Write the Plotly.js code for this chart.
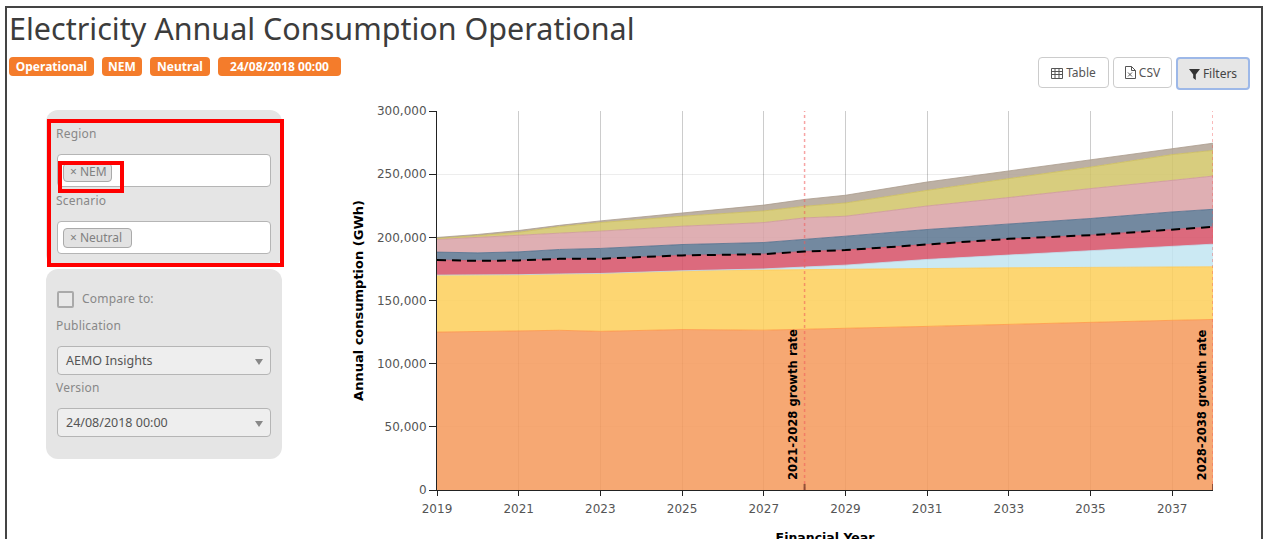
<!DOCTYPE html>
<html><head><meta charset="utf-8">
<script src="https://cdn.plot.ly/plotly-3.0.1.min.js"></script>
<style>
html,body{margin:0;padding:0;background:#fff;overflow:hidden;width:1266px;height:539px;font-family:"DejaVu Sans",sans-serif}
.a{position:absolute;box-sizing:border-box;white-space:nowrap}
.frame{left:5px;top:6px;width:1258px;height:560px;border:2px solid #444}
h1{margin:0;left:9px;top:8px;font:400 30.500px/40px "Noto Sans",sans-serif;color:#3c3c3c}
.badge{top:57px;height:19px;background:#f47c2b;color:#fff;font:700 12px/19px "Noto Sans",sans-serif;text-align:center;border-radius:4px}
.panel{background:#e5e5e5;left:46px;width:236px;border-radius:12px}
.label{left:56px;font:12px/16px "Noto Sans",sans-serif;color:#888;letter-spacing:.2px}
.input{left:57px;width:214px;background:#fff;border:1px solid #b5b5b5;border-radius:4px}
.tag{left:63px;background:#e2e2e2;border:1px solid #aaa;border-radius:4px;color:#808080;font:12px/15px "Noto Sans",sans-serif;padding-left:6px}
.select{left:57px;width:214px;height:29px;background:#eee;border:1px solid #b5b5b5;border-radius:4px;color:#555;font:12.500px/28px "Noto Sans",sans-serif;padding-left:8px}
.select:after{content:"";position:absolute;right:7px;top:12px;border:4.500px solid transparent;border-top:6px solid #888;border-bottom:0}
.red{border:4px solid #f00}
.btn{top:57px;height:31px;background:#fff;border:1px solid #ccc;border-radius:4px;color:#555;font:12px/29px "Noto Sans",sans-serif;text-align:center}
.btn svg{vertical-align:-2px;margin-right:3px}
#chart{position:absolute;left:340px;top:100px;width:900px;height:445px}
</style></head><body>
<div class="a frame"></div>
<h1 class="a">Electricity Annual Consumption Operational</h1>
<div class="a badge" style="left:9px;width:85px">Operational</div>
<div class="a badge" style="left:102px;width:40px">NEM</div>
<div class="a badge" style="left:150px;width:60px">Neutral</div>
<div class="a badge" style="left:218px;width:123px">24/08/2018 00:00</div>

<div class="a panel" style="top:110px;height:156px"></div>
<div class="a panel" style="top:269px;height:190px"></div>
<div class="a label" style="top:126px">Region</div>
<div class="a input" style="top:154px;height:33px"></div>
<div class="a tag" style="top:163px;width:49px;height:19px">× NEM</div>
<div class="a label" style="top:193px">Scenario</div>
<div class="a input" style="top:221px;height:33px"></div>
<div class="a tag" style="top:228px;width:69px;height:20px;line-height:17px">× Neutral</div>
<div class="a red" style="left:47px;top:119px;width:237px;height:148px"></div>
<div class="a red" style="left:58px;top:161px;width:66px;height:32px"></div>
<div class="a" style="left:57px;top:291px;width:17px;height:17px;border:2px solid #aaa;border-radius:2px;background:#e9e9e9"></div>
<div class="a label" style="left:82px;top:291px">Compare to:</div>
<div class="a label" style="top:318px">Publication</div>
<div class="a select" style="top:346px">AEMO Insights</div>
<div class="a label" style="top:380px">Version</div>
<div class="a select" style="top:408px">24/08/2018 00:00</div>

<div class="a btn" style="left:1038px;width:71px"><svg width="12" height="11" viewBox="0 0 12 11"><path d="M.5.5h11v10H.5zM.5 3.5h11M.5 6.500h11M4 .5v10M8 .5v10" fill="none" stroke="#555"/></svg>Table</div>
<div class="a btn" style="left:1113px;width:59px"><svg width="11" height="13" viewBox="0 0 11 13"><path d="M.5.5h6l4 4v8H.5zM6.500.5v4h4M3 6.500l4 4M7 6.500l-4 4" fill="none" stroke="#555"/></svg>CSV</div>
<div class="a btn" style="left:1176px;width:74px;height:33px;background:#e6e6e6;border:2px solid #9db8e8;line-height:29px;color:#444"><svg width="11" height="11" viewBox="0 0 11 11"><path d="M0 0h11L6.800 5.500V11L4.200 9V5.500z" fill="#333"/></svg>Filters</div>

<div id="chart"></div>
<script>
var years = [2019,2020,2021,2022,2023,2025,2027,2028,2029,2031,2033,2035,2037,2038];
var orangeTop = [125000,125300,125800,126400,125600,127000,126500,127400,128000,129500,131300,132700,134300,135000];
var yellowTop = [170100,170000,170400,171000,171400,173500,174100,174600,175100,175600,175900,176200,176400,176700];
var lightBlueTop = [170100,170000,170400,171000,171400,173500,175000,176500,178000,182500,186000,189400,193000,194600];
var redTop = [182000,181400,181700,183000,183000,185700,186700,188800,189900,194300,198800,201700,206200,208300];
var slateTop = [188300,187700,188500,190400,191200,194300,195900,198300,200900,206200,210400,214900,220100,222200];
var pinkTop = [198300,199800,201700,203300,204900,208800,211700,215400,216700,224800,231500,238600,245100,248500];
var oliveTop = [199300,201300,204000,208500,211700,216700,220900,224600,227200,237200,246500,255600,265500,268800];
var greyTop = [199900,202300,205400,209500,213000,219000,225500,230000,233300,243800,252500,260900,270000,274500];
var dashedTotal = [182000,181400,181700,183000,183000,185700,186700,188800,189900,194300,198800,201700,206200,208300];
var growthMarkers = [2028,2038];
var growthLabels = ["2021-2028 growth rate","2028-2038 growth rate"];

function band(y,fill,line,first){
  return {x:years,y:y,type:"scatter",mode:"lines",fill:first?"tozeroy":"tonexty",fillcolor:fill,
          line:{color:line,width:1},hoverinfo:"skip",showlegend:false};
}
var traces = [
  band(orangeTop,"rgba(244,153,90,.85)","rgba(255,150,70,.8)",true),
  band(yellowTop,"rgba(253,207,89,.85)","rgba(255,200,80,.8)"),
  band(lightBlueTop,"rgba(194,229,241,.85)","rgba(190,225,240,.8)"),
  band(redTop,"rgba(214,80,102,.85)","rgba(214,80,102,.8)"),
  band(slateTop,"rgba(90,116,143,.85)","rgba(80,110,140,.8)"),
  band(pinkTop,"rgba(217,161,166,.85)","rgba(205,150,155,.8)"),
  band(oliveTop,"rgba(209,196,103,.85)","rgba(205,190,90,.8)"),
  band(greyTop,"rgba(176,162,148,.85)","rgba(170,155,140,.8)"),
  {x:years,y:dashedTotal,type:"scatter",mode:"lines",line:{color:"#000",width:2,dash:"9px,6px"},hoverinfo:"skip",showlegend:false}
];
var shapes = [], annotations = [];
growthMarkers.forEach(function(g,i){
  shapes.push({type:"line",x0:g,x1:g,yref:"paper",y0:0,y1:1,line:{color:"rgba(240,90,90,.55)",width:1.5,dash:"dot"}});
  shapes.push({type:"line",x0:g,x1:g,yref:"paper",y0:0,y1:0.016,line:{color:"rgba(120,60,40,.8)",width:2}});
  annotations.push({x:g,xref:"x",xanchor:"center",xshift:-11.5,yref:"paper",y:0.02,yanchor:"bottom",showarrow:false,
    textangle:-90,text:growthLabels[i],font:{family:"DejaVu Sans",size:11.6,color:"#000",weight:700}});
});
var layout = {
  width:900,height:445,autosize:false,
  margin:{l:97,r:27,t:10.5,b:54.5},
  paper_bgcolor:"rgba(0,0,0,0)",plot_bgcolor:"rgba(0,0,0,0)",
  font:{family:"DejaVu Sans",size:12,color:"#555"},
  xaxis:{range:[2019,2038],tick0:2019,dtick:2,ticks:"outside",ticklen:5,tickcolor:"#222",tickformat:"d",ticklabelstandoff:3,
    showline:true,linecolor:"#222",linewidth:1,showgrid:true,gridcolor:"rgba(0,0,0,.2)",zeroline:false,
    title:{text:"Financial Year",font:{size:12.5,color:"#000",weight:700},standoff:26}},
  yaxis:{range:[0,300000],dtick:50000,ticks:"outside",ticklen:7,tickcolor:"#222",tickformat:",d",
    showline:true,linecolor:"#222",linewidth:1,showgrid:true,gridcolor:"rgba(0,0,0,.07)",zeroline:false,
    title:{text:"Annual consumption (GWh)",font:{size:13,color:"#000",weight:700},standoff:10}},
  shapes:shapes,annotations:annotations
};
Plotly.newPlot("chart",traces,layout,{displayModeBar:false,staticPlot:true});
</script>
</body></html>
